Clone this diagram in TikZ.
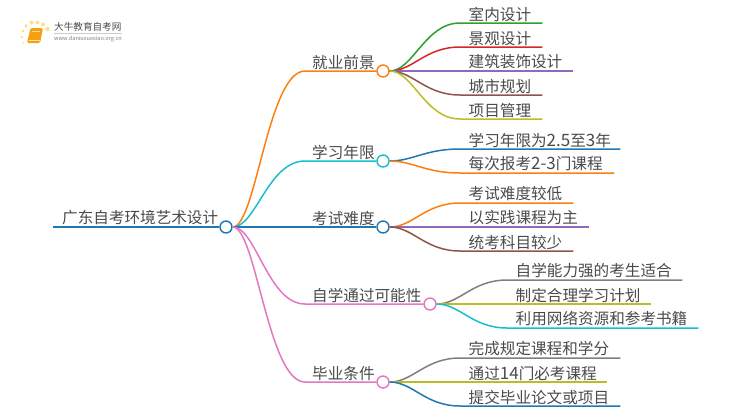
\documentclass[tikz,border=0pt]{standalone}
\usepackage{fontspec}
\setmainfont{Noto Sans CJK SC}
\usepackage{xcolor}
\definecolor{mapgreen}{HTML}{2CA02C}
\definecolor{mapred}{HTML}{D62728}
\definecolor{mappurple}{HTML}{9467BD}
\definecolor{mapbrown}{HTML}{8C564B}
\definecolor{mapolive}{HTML}{BCBD22}
\definecolor{mapblue}{HTML}{1F77B4}
\definecolor{maporange}{HTML}{FF7F0E}
\definecolor{mapcyan}{HTML}{17BECF}
\definecolor{mappink}{HTML}{E377C2}
\definecolor{mapgray}{HTML}{7F7F7F}
\definecolor{maptext}{HTML}{4A4A4A}
\definecolor{logodot}{HTML}{FFDF8E}
\definecolor{logobook}{HTML}{F5A011}
\newcommand{\mapnum}[1]{{\fontsize{17}{17}\selectfont #1}}
\tikzset{
    hub/.style={circle,draw=#1,fill=white,line width=1.4pt,inner sep=0pt,minimum size=12pt},
    label/.style={anchor=south west,inner xsep=0pt,inner ysep=1.5pt,text=maptext,font=\fontsize{15.6}{17}\selectfont},
    conn/.style={line width=1.5pt,draw=#1},
}
\begin{document}
\begin{tikzpicture}[x=1pt,y=-1pt]
        \useasboundingbox (0,0) rectangle (750,410);
        % logo
        \foreach \px/\py/\pr in {23.5/42.5/1,22/37/1.3,23/31/1.6,26/26/1.8,31.5/22.5/2,37.5/22.5/2,43/24.5/2,47.5/29/2.3}
            \fill[logodot] (\px,\py) circle (\pr);
        \fill[logobook,rounded corners=1.5pt] (30.5,28) -- (43,28) -- (40,43) -- (27,43) -- cycle;
        \draw[white!70!logobook,line width=.7pt] (28.5,40.8) -- (39.5,40.8);
        \draw[white!60!logobook,line width=.6pt] (32,31) -- (40,31);
        \node[anchor=west,inner sep=0pt,text=maptext,font=\fontsize{9.6}{10}\selectfont] (logotitle) at (54,27) {大牛教育自考网};
        \node[anchor=west,inner sep=0pt,text=mapgray,font=\fontsize{5.6}{6}\selectfont] (logourl) at (54,38.7) {www.daniuxuexiao.org.cn};
        \draw[black!20,line width=.5pt] (logotitle.south west) ++(0,1.5) -- ++(68,0);
        % root and branch dots
        \node[hub=mapblue] (root) at (226,227) {};
        \node[hub=maporange] (job) at (383,71) {};
        \node[hub=mapcyan] (years) at (383,161) {};
        \node[hub=mapblue] (level) at (383,227) {};
        \node[hub=mappink] (self) at (430,304) {};
        \node[hub=mappink] (grad) at (383,382) {};
        % root and branch labels
        \node[label,text width=175pt] (roottxt) at (53,227) {\hspace{9pt}广东自考环境艺术设计};
        \node[label,text width=72pt] (jobtxt) at (305,71) {\hspace{7pt}就业前景};
        \node[label,text width=72pt] (yearstxt) at (305,161) {\hspace{7pt}学习年限};
        \node[label,text width=72pt] (leveltxt) at (305,227) {\hspace{7pt}考试难度};
        \node[label,text width=125pt] (selftxt) at (305,304) {\hspace{7pt}自学通过可能性};
        \node[label,text width=72pt] (gradtxt) at (305,382) {\hspace{7pt}毕业条件};
        % leaves
        \node[label,text width=82pt] (job1) at (460,23) {\hspace{8.5pt}室内设计};
        \node[label,text width=82pt] (job2) at (460,47) {\hspace{8.5pt}景观设计};
        \node[label,text width=113pt] (job3) at (460,71) {\hspace{8.5pt}建筑装饰设计};
        \node[label,text width=82pt] (job4) at (460,95) {\hspace{8.5pt}城市规划};
        \node[label,text width=82pt] (job5) at (460,119) {\hspace{8.5pt}项目管理};
        \node[label,text width=160pt] (years1) at (460,149) {\hspace{8.5pt}学习年限为\mapnum{2.5}至\mapnum{3}年};
        \node[label,text width=154pt] (years2) at (460,173) {\hspace{8.5pt}每次报考\mapnum{2-3}门课程};
        \node[label,text width=113pt] (level1) at (460,203) {\hspace{8.5pt}考试难度较低};
        \node[label,text width=129pt] (level2) at (460,227) {\hspace{8.5pt}以实践课程为主};
        \node[label,text width=113pt] (level3) at (460,251) {\hspace{8.5pt}统考科目较少};
        \node[label,text width=175pt] (self1) at (507,280) {\hspace{8.5pt}自学能力强的考生适合};
        \node[label,text width=144pt] (self2) at (507,304) {\hspace{8.5pt}制定合理学习计划};
        \node[label,text width=191pt] (self3) at (507,328) {\hspace{8.5pt}利用网络资源和参考书籍};
        \node[label,text width=160pt] (grad1) at (460,358) {\hspace{8.5pt}完成规定课程和学分};
        \node[label,text width=147pt] (grad2) at (460,382) {\hspace{8.5pt}通过\mapnum{14}门必考课程};
        \node[label,text width=160pt] (grad3) at (460,406) {\hspace{8.5pt}提交毕业论文或项目};
        % connectors
        \draw[conn=mapblue,line width=2pt] (roottxt.south west) -- (root.west);
        \draw[conn=maporange] (root.east) .. controls (256,227) and (268,71) .. (jobtxt.south west) -- (job.west);
        \draw[conn=mapcyan] (root.east) .. controls (256,227) and (268,161) .. (yearstxt.south west) -- (years.west);
        \draw[conn=mapblue] (root.east) -- (level.west);
        \draw[conn=mappink] (root.east) .. controls (256,227) and (268,304) .. (selftxt.south west) -- (self.west);
        \draw[conn=mappink] (root.east) .. controls (256,227) and (268,382) .. (gradtxt.south west) -- (grad.west);
        \draw[conn=mapgreen] (job.east) .. controls (413,71) and (425,23) .. (job1.south west) -- (job1.south east);
        \draw[conn=mapred] (job.east) .. controls (413,71) and (425,47) .. (job2.south west) -- (job2.south east);
        \draw[conn=mappurple] (job.east) -- (job3.south east);
        \draw[conn=mapbrown] (job.east) .. controls (413,71) and (425,95) .. (job4.south west) -- (job4.south east);
        \draw[conn=mapolive] (job.east) .. controls (413,71) and (425,119) .. (job5.south west) -- (job5.south east);
        \draw[conn=mapblue] (years.east) .. controls (413,161) and (425,149) .. (years1.south west) -- (years1.south east);
        \draw[conn=maporange] (years.east) .. controls (413,161) and (425,173) .. (years2.south west) -- (years2.south east);
        \draw[conn=maporange] (level.east) .. controls (413,227) and (425,203) .. (level1.south west) -- (level1.south east);
        \draw[conn=mappurple] (level.east) -- (level2.south east);
        \draw[conn=mapbrown] (level.east) .. controls (413,227) and (425,251) .. (level3.south west) -- (level3.south east);
        \draw[conn=mapgray] (self.east) .. controls (460,304) and (472,280) .. (self1.south west) -- (self1.south east);
        \draw[conn=mapolive] (self.east) -- (self2.south east);
        \draw[conn=mapcyan] (self.east) .. controls (460,304) and (472,328) .. (self3.south west) -- (self3.south east);
        \draw[conn=mapgray] (grad.east) .. controls (413,382) and (425,358) .. (grad1.south west) -- (grad1.south east);
        \draw[conn=mapolive] (grad.east) -- (grad2.south east);
        \draw[conn=mapblue] (grad.east) .. controls (413,382) and (425,406) .. (grad3.south west) -- (grad3.south east);
    \end{tikzpicture}
\end{document}
